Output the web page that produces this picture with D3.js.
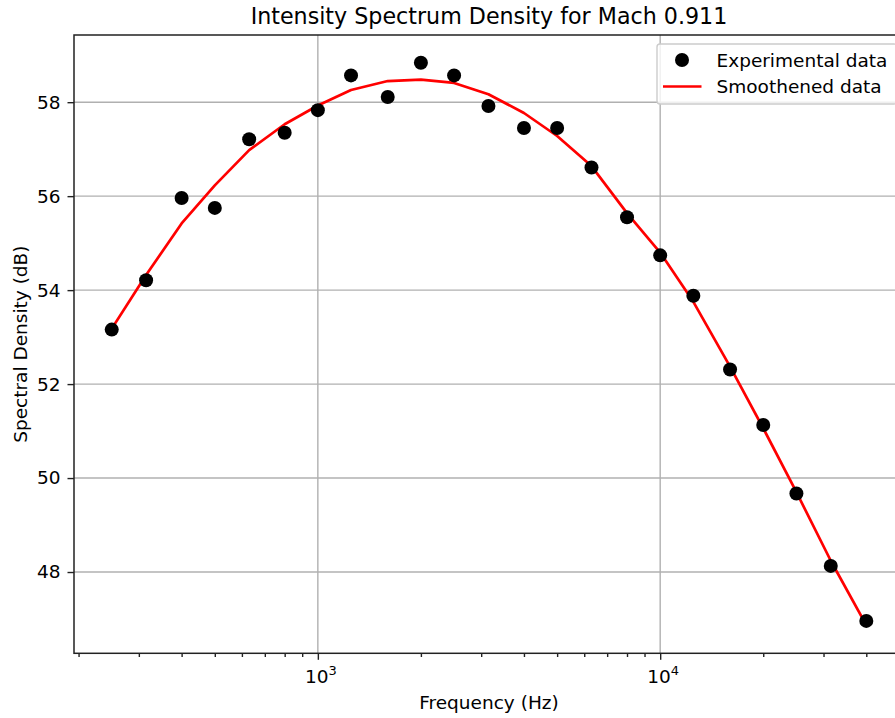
<!DOCTYPE html>
<html>
<head>
<meta charset="utf-8">
<script src="https://cdn.jsdelivr.net/npm/d3@7"></script>
<style>
  body { margin: 0; background: #fff; }
  svg { display: block; font-family: "DejaVu Sans", sans-serif; }
</style>
</head>
<body>
<svg id="chart" width="895" height="718"></svg>
<script>
const frequencies = [250, 315, 400, 500, 630, 800, 1000, 1250, 1600, 2000, 2500, 3150, 4000, 5000, 6300, 8000, 10000, 12500, 16000, 20000, 25000, 31500, 40000];
const experimental = [53.16, 54.21, 55.96, 55.75, 57.21, 57.35, 57.83, 58.57, 58.11, 58.84, 58.57, 57.92, 57.45, 57.45, 56.61, 55.55, 54.74, 53.88, 52.31, 51.13, 49.67, 48.13, 46.96];
const smoothed = [53.18, 54.32, 55.42, 56.23, 56.98, 57.53, 57.93, 58.26, 58.45, 58.48, 58.41, 58.17, 57.77, 57.28, 56.64, 55.64, 54.80, 53.75, 52.37, 51.06, 49.70, 48.24, 46.87];
const yTicks = [48, 50, 52, 54, 56, 58];
const xMajorTicks = [1000, 10000];
const xMajorExponents = ["3", "4"];
const seriesNames = ["Experimental data", "Smoothened data"];
const titleText = "Intensity Spectrum Density for Mach 0.911";
const xLabel = "Frequency (Hz)";
const yLabel = "Spectral Density (dB)";

const svg = d3.select("#chart");
const L = 74, R = 904, T = 35, B = 653.3;
const FS = 18.5;

const x = d3.scaleLog().domain([Math.pow(10, 2.2877), Math.pow(10, 4.7122)]).range([L, R]);
const y = d3.scaleLinear().domain([46.27, 59.43]).range([B, T]);

// minor tick values
const minorTicks = [];
for (let e = 2; e <= 4; e++) {
  for (let m = 2; m <= 9; m++) {
    const v = m * Math.pow(10, e);
    if (v >= x.domain()[0] && v <= x.domain()[1]) minorTicks.push(v);
  }
}

// grid
const grid = svg.append("g");
grid.selectAll("line.gx").data(xMajorTicks).enter().append("line")
  .attr("x1", d => x(d)).attr("x2", d => x(d)).attr("y1", T).attr("y2", B)
  .attr("stroke", "#b0b0b0").attr("stroke-width", 1.4);
grid.selectAll("line.gy").data(yTicks).enter().append("line")
  .attr("x1", L).attr("x2", R).attr("y1", d => y(d)).attr("y2", d => y(d))
  .attr("stroke", "#b0b0b0").attr("stroke-width", 1.4);

// smoothed line
const line = d3.line().x((d, i) => x(frequencies[i])).y(d => y(d));
svg.append("path").datum(smoothed)
  .attr("d", line).attr("fill", "none").attr("stroke", "#ff0000")
  .attr("stroke-width", 2.7).attr("stroke-linejoin", "round").attr("stroke-linecap", "square");

// points
svg.append("g").selectAll("circle").data(experimental).enter().append("circle")
  .attr("cx", (d, i) => x(frequencies[i])).attr("cy", d => y(d)).attr("r", 7)
  .attr("fill", "#000");

// Axes
const xAxisMinor = d3.axisBottom(x).tickValues(minorTicks).tickSize(3.7).tickFormat("");
const xAxisMajor = d3.axisBottom(x).tickValues(xMajorTicks).tickSize(6.5).tickFormat("");
const gxm = svg.append("g").attr("transform", `translate(0,${B})`).call(xAxisMinor);
const gxM = svg.append("g").attr("transform", `translate(0,${B})`).call(xAxisMajor);
[gxm, gxM].forEach(g => {
  g.select(".domain").remove();
  g.selectAll(".tick line").attr("stroke", "#222").attr("stroke-width", 1.4);
});

// x major labels with superscripts
const xl = svg.append("g").selectAll("text").data(xMajorTicks).enter().append("text")
  .attr("x", d => x(d) + 3).attr("y", B + 29.5).attr("text-anchor", "middle")
  .attr("font-size", FS).attr("fill", "#000");
xl.append("tspan").text("10");
xl.append("tspan").attr("dy", -8).attr("font-size", 13).text((d, i) => xMajorExponents[i]);

const yAxis = d3.axisLeft(y).tickValues(yTicks).tickSize(6.5).tickPadding(7).tickFormat(d3.format("d"));
const gy = svg.append("g").attr("transform", `translate(${L},0)`).call(yAxis);
gy.select(".domain").remove();
gy.selectAll(".tick line").attr("stroke", "#222").attr("stroke-width", 1.4);
gy.selectAll(".tick text").attr("font-size", FS).attr("fill", "#000")
  .attr("font-family", "DejaVu Sans, sans-serif");

// spines
svg.append("rect").attr("x", L).attr("y", T).attr("width", R - L).attr("height", B - T)
  .attr("fill", "none").attr("stroke", "#222").attr("stroke-width", 1.5);

// Title and labels
svg.append("text").attr("x", (L + R) / 2).attr("y", 24).attr("text-anchor", "middle")
  .attr("font-size", 22.2).attr("fill", "#000").text(titleText);
svg.append("text").attr("x", (L + R) / 2).attr("y", 709).attr("text-anchor", "middle")
  .attr("font-size", FS).attr("fill", "#000").text(xLabel);
svg.append("text").attr("transform", `translate(27,${(T + B) / 2}) rotate(-90)`)
  .attr("text-anchor", "middle").attr("font-size", FS).attr("fill", "#000").text(yLabel);

// Legend
const lg = svg.append("g");
lg.append("rect").attr("x", 657).attr("y", 44).attr("width", 240).attr("height", 60).attr("rx", 3)
  .attr("fill", "#fff").attr("fill-opacity", 0.8).attr("stroke", "#cccccc").attr("stroke-width", 1.4);
lg.append("circle").attr("cx", 682).attr("cy", 60).attr("r", 7).attr("fill", "#000");
lg.append("line").attr("x1", 663).attr("x2", 701.5).attr("y1", 86.5).attr("y2", 86.5)
  .attr("stroke", "#ff0000").attr("stroke-width", 2.7);
lg.selectAll("text.lt").data(seriesNames).enter().append("text")
  .attr("x", 716.5).attr("y", (d, i) => 66.5 + i * 26.5)
  .attr("font-size", FS).attr("fill", "#000").text(d => d);
</script>
</body>
</html>
